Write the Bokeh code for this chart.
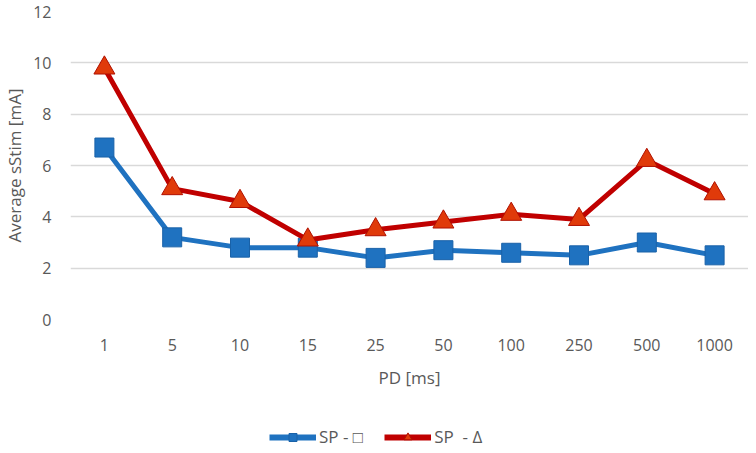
from bokeh.plotting import figure
from bokeh.models import FactorRange, Legend, LegendItem, ColumnDataSource, Range1d
from bokeh.layouts import column
from bokeh.embed import file_html
from bokeh.resources import INLINE

categories = ["1", "5", "10", "15", "25", "50", "100", "250", "500", "1000"]
sp_square = [6.7, 3.2, 2.8, 2.8, 2.4, 2.7, 2.6, 2.5, 3.0, 2.5]
sp_delta = [9.8, 5.1, 4.6, 3.1, 3.5, 3.8, 4.1, 3.9, 6.2, 4.9]
y_ticks = [0, 2, 4, 6, 8, 10, 12]

FONT = "Open Sans"
GREY = "#595959"
BLUE = "#1F72C0"
RED = "#C00000"
TRI = "#E03A0A"

p = figure(width=748, height=400,
           x_range=FactorRange(*categories, range_padding=0),
           y_range=(0, 12), output_backend="svg", toolbar_location=None,
           min_border_left=69, min_border_right=0, min_border_top=11, min_border_bottom=81)
p.outline_line_color = None
p.xgrid.grid_line_color = None
p.ygrid.grid_line_color = "#D9D9D9"
p.ygrid.grid_line_width = 1.3

p.yaxis.ticker = y_ticks
p.yaxis.axis_line_color = None
p.yaxis.major_tick_line_color = None
p.yaxis.minor_tick_line_color = None
p.yaxis.major_label_text_font = FONT
p.yaxis.major_label_text_font_size = "16px"
p.yaxis.major_label_text_color = GREY
p.yaxis.major_label_standoff = 13
p.yaxis.axis_label = "Average sStim [mA]"
p.yaxis.axis_label_text_font = FONT
p.yaxis.axis_label_text_font_style = "normal"
p.yaxis.axis_label_text_font_size = "17px"
p.yaxis.axis_label_text_color = GREY
p.yaxis.axis_label_standoff = 4

p.xaxis.axis_line_color = None
p.xaxis.major_tick_line_color = None
p.xaxis.minor_tick_line_color = None
p.xaxis.major_label_text_font = FONT
p.xaxis.major_label_text_font_size = "16px"
p.xaxis.major_label_text_color = GREY
p.xaxis.major_label_standoff = 13
p.xaxis.axis_label = "PD [ms]"
p.xaxis.axis_label_text_font = FONT
p.xaxis.axis_label_text_font_style = "normal"
p.xaxis.axis_label_text_font_size = "17px"
p.xaxis.axis_label_text_color = GREY
p.xaxis.axis_label_standoff = 12

src = ColumnDataSource(dict(x=categories, a=sp_square, b=sp_delta))

l1 = p.line("x", "a", source=src, line_color=BLUE, line_width=5)
m1 = p.scatter("x", "a", source=src, marker="square", size=19, fill_color=BLUE,
               line_color="#1A62A8", line_width=1)
l2 = p.line("x", "b", source=src, line_color=RED, line_width=5)
m2 = p.scatter("x", "b", source=src, marker="triangle", size=21, fill_color=TRI,
               line_color="#B01000", line_width=1)

# legend strip below the chart (its glyph sources lie outside its visible range)
lf = figure(width=748, height=50, x_range=Range1d(0, 1), y_range=Range1d(0, 1),
            output_backend="svg", toolbar_location=None,
            min_border_left=0, min_border_right=0, min_border_top=0, min_border_bottom=0)
lf.axis.visible = False
lf.grid.visible = False
lf.outline_line_color = None
e = ColumnDataSource(dict(x=[-5, -6], y=[-5, -6]))
d1 = lf.line("x", "y", source=e, line_color=BLUE, line_width=6)
s1 = lf.scatter("x", "y", source=e, marker="square", size=13, fill_color=BLUE,
                line_color="#1A62A8", line_width=1)
d2 = lf.line("x", "y", source=e, line_color=RED, line_width=6)
s2 = lf.scatter("x", "y", source=e, marker="triangle", size=14, fill_color=TRI,
                line_color="#B01000", line_width=1)

legend = Legend(items=[LegendItem(label="SP - \u25a1", renderers=[d1, s1]),
                       LegendItem(label="SP  - \u0394", renderers=[d2, s2])],
                orientation="horizontal", location=(199, 2),
                label_text_font=FONT, label_text_font_size="17px", label_text_color=GREY,
                glyph_width=47, glyph_height=20, spacing=21, label_standoff=3,
                border_line_color=None, background_fill_alpha=0, margin=0, padding=0)
lf.add_layout(legend, "center")

layout = column(p, lf, spacing=0)
open("out.html", "w").write(file_html(layout, INLINE))
